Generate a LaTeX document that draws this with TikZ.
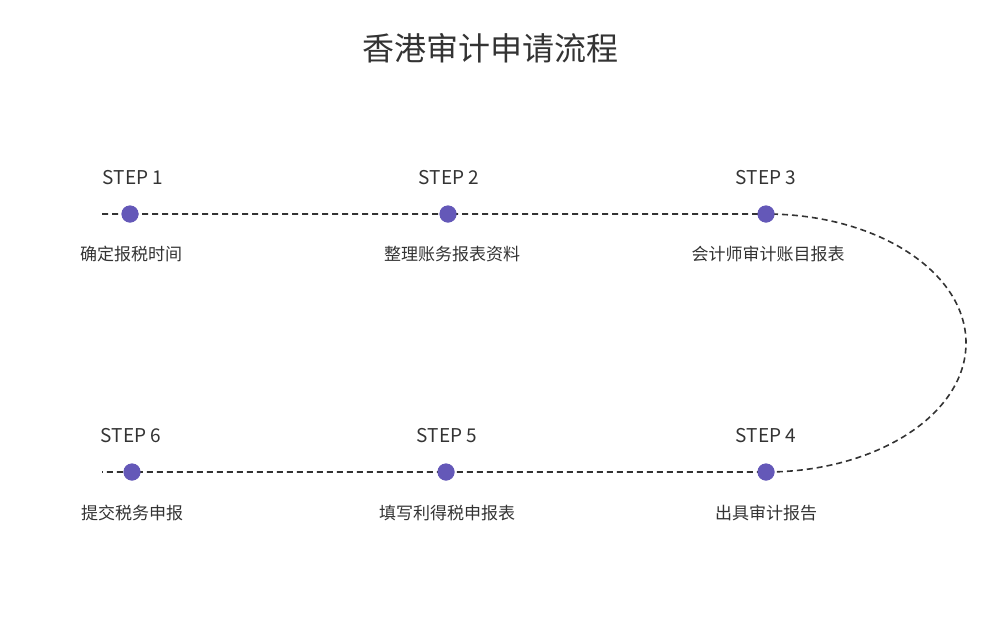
\documentclass[tikz,border=0pt]{standalone}
\usepackage{fontspec}
\setmainfont{Noto Sans CJK SC}
\definecolor{dotpurple}{RGB}{100,88,184}
\definecolor{txtgray}{RGB}{51,51,51}
\tikzset{
  stepdot/.style={circle,fill=dotpurple,inner sep=0pt,minimum size=17pt},
  steplabel/.style={text=txtgray,font=\fontsize{19}{22}\selectfont},
  tasklabel/.style={text=txtgray,font=\fontsize{17}{20}\selectfont},
  route/.style={draw=txtgray,line width=1.6pt,dash pattern=on 6pt off 4pt}
}
\begin{document}
\begin{tikzpicture}[x=1pt,y=-1pt]
    \useasboundingbox (0,0) rectangle (995,619);
    % title
    \node [text=txtgray,font=\fontsize{32}{36}\selectfont] (title) at (490,48) {香港审计申请流程};
    % route ends
    \coordinate (startA) at (102,214);
    \coordinate (startB) at (102,472);
    % top row
    \node [stepdot] (s1) at (130,214) {};
    \node [stepdot] (s2) at (448,214) {};
    \node [stepdot] (s3) at (766,214) {};
    % bottom row
    \node [stepdot] (s6) at (132,472) {};
    \node [stepdot] (s5) at (446,472) {};
    \node [stepdot] (s4) at (766,472) {};
    % dashed route
    \begin{scope}[on background layer/.try]
    \draw [route] (startA) -- (s3.center) arc [start angle=90,end angle=-90,x radius=200,y radius=-129] -- (startB);
    \end{scope}
    \foreach \n in {s1,s2,s3,s4,s5,s6} \node [stepdot] at (\n) {};
    % step labels
    \node [steplabel] at (133,178) {STEP 1};
    \node [steplabel] at (449,178) {STEP 2};
    \node [steplabel] at (766,178) {STEP 3};
    \node [steplabel] at (131,436) {STEP 6};
    \node [steplabel] at (447,436) {STEP 5};
    \node [steplabel] at (766,436) {STEP 4};
    % task labels
    \node [tasklabel] at (131,254) {确定报税时间};
    \node [tasklabel] at (452,254) {整理账务报表资料};
    \node [tasklabel] at (768,254) {会计师审计账目报表};
    \node [tasklabel] at (132,513) {提交税务申报};
    \node [tasklabel] at (447,513) {填写利得税申报表};
    \node [tasklabel] at (766,513) {出具审计报告};
\end{tikzpicture}
\end{document}
